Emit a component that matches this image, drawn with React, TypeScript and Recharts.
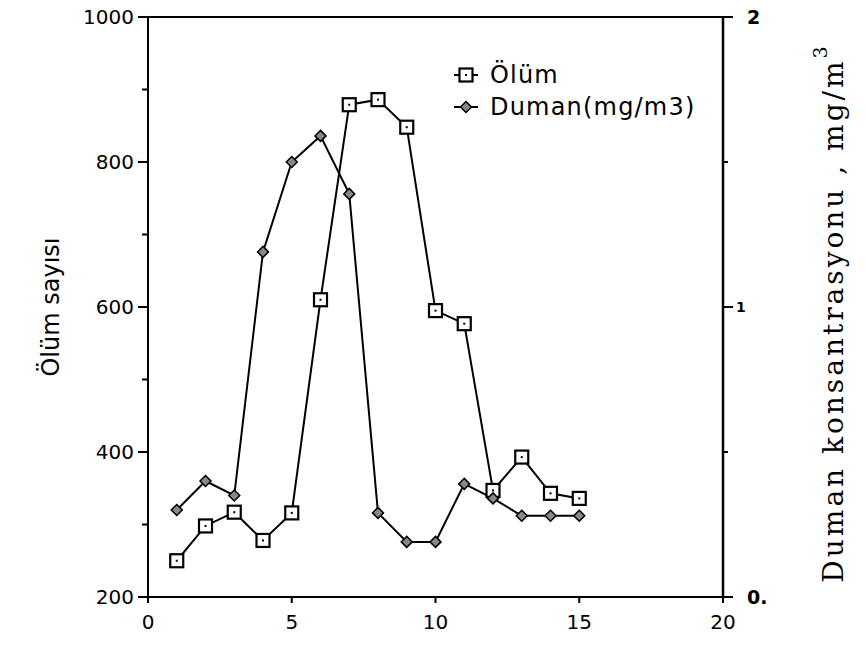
import React from 'react';
import { LineChart, Line, XAxis, YAxis, ReferenceLine, Legend } from 'recharts';

const days = [1, 2, 3, 4, 5, 6, 7, 8, 9, 10, 11, 12, 13, 14, 15];
const olum = [250, 298, 317, 278, 316, 610, 879, 886, 848, 595, 577, 347, 393, 343, 336];
const duman = [0.3, 0.4, 0.35, 1.19, 1.5, 1.59, 1.39, 0.29, 0.19, 0.19, 0.39, 0.34, 0.28, 0.28, 0.28];
const xTicks = [0, 5, 10, 15, 20];
const leftTicks = [200, 300, 400, 500, 600, 700, 800, 900, 1000];
const rightTicks = [0, 0.5, 1, 1.5, 2];
const rightLabels: Record<string, string> = { '0': '0.', '1': '1', '2': '2' };

const data = days.map((d, i) => ({ day: d, olum: olum[i], duman: duman[i] }));

const SANS = '"DejaVu Sans", sans-serif';
const SERIF = '"DejaVu Serif", serif';

const SquareDot = (props: any) => {
  const { cx, cy } = props;
  if (cx == null || cy == null) return null;
  return (
    <g>
      <rect x={cx - 6.5} y={cy - 6.5} width={13} height={13} fill="#fff" stroke="#000" strokeWidth={2.2} />
      <rect x={cx - 1} y={cy - 1} width={2} height={2} fill="#000" />
    </g>
  );
};

const DiamondDot = (props: any) => {
  const { cx, cy } = props;
  if (cx == null || cy == null) return null;
  const r = 5.5;
  return (
    <polygon
      points={`${cx},${cy - r} ${cx + r},${cy} ${cx},${cy + r} ${cx - r},${cy}`}
      fill="#888"
      stroke="#000"
      strokeWidth={1.5}
    />
  );
};

const LeftTick = (props: any) => {
  const { x, y, payload } = props;
  const v = payload.value;
  const major = v % 200 === 0;
  return (
    <g>
      <line x1={x} x2={x - (major ? 10 : 6)} y1={y} y2={y} stroke="#000" strokeWidth={2} />
      {major && (
        <text x={x - 14} y={y} textAnchor="end" dominantBaseline="central" fontFamily={SANS} fontSize={20} fill="#000">
          {v}
        </text>
      )}
    </g>
  );
};

const RightTick = (props: any) => {
  const { x, y, payload } = props;
  const v = payload.value;
  const lbl = rightLabels[String(v)];
  return (
    <g>
      <line x1={x} x2={x + (lbl ? 10 : 5)} y1={y} y2={y} stroke="#000" strokeWidth={2} />
      {lbl && (
        <text x={x + (v === 1 ? 13 : 24)} y={y} textAnchor="start" dominantBaseline="central" fontFamily={SANS} fontSize={v === 1 ? 14 : 19} fontWeight="bold" fill="#000">
          {lbl}
        </text>
      )}
    </g>
  );
};

const BottomTick = (props: any) => {
  const { x, y, payload } = props;
  return (
    <g>
      <line x1={x} x2={x} y1={y} y2={y + 6} stroke="#000" strokeWidth={2} />
      <text x={x} y={y + 25} textAnchor="middle" dominantBaseline="central" fontFamily={SANS} fontSize={20} fill="#000">
        {payload.value}
      </text>
    </g>
  );
};

const LeftLabel = (props: any) => {
  const vb = props.viewBox || { x: 0, y: 17, width: 148, height: 580 };
  const cx = 51;
  const cy = vb.y + vb.height / 2;
  return (
    <text
      x={cx}
      y={cy}
      transform={`rotate(-90, ${cx}, ${cy})`}
      textAnchor="middle"
      dominantBaseline="central"
      fontFamily={SANS}
      fontSize={24}
      fill="#000"
    >
      Ölüm sayısı
    </text>
  );
};

const RightLabel = (props: any) => {
  const vb = props.viewBox || { x: 723, y: 17, width: 143, height: 580 };
  const cx = 833;
  const cy = vb.y + vb.height / 2 + 6;
  return (
    <text
      x={cx}
      y={cy}
      transform={`rotate(-90, ${cx}, ${cy})`}
      textAnchor="middle"
      dominantBaseline="central"
      fontFamily={SERIF}
      fontSize={28}
      letterSpacing={3}
      fill="#000"
    >
      Duman konsantrasyonu , mg/m
      <tspan dy={-13} fontSize={19}>3</tspan>
    </text>
  );
};

const LegendContent = () => (
  <div style={{ position: 'relative', width: 340, height: 70, fontFamily: SANS, fontSize: 24, letterSpacing: 1.2, color: '#000' }}>
    <div style={{ position: 'absolute', left: 0, top: 0, height: 28, display: 'flex', alignItems: 'center', whiteSpace: 'nowrap' }}>
      <svg width={36} height={28}>
        <line x1={6} x2={30} y1={14} y2={14} stroke="#000" strokeWidth={2} />
        <SquareDot cx={18} cy={14} />
      </svg>
      <span style={{ marginLeft: 6 }}>Ölüm</span>
    </div>
    <div style={{ position: 'absolute', left: 0, top: 32, height: 28, display: 'flex', alignItems: 'center', whiteSpace: 'nowrap' }}>
      <svg width={36} height={28}>
        <line x1={6} x2={30} y1={14} y2={14} stroke="#000" strokeWidth={2} />
        <DiamondDot cx={18} cy={14} />
      </svg>
      <span style={{ marginLeft: 6 }}>Duman(mg/m3)</span>
    </div>
  </div>
);

export default function App() {
  return (
    <div style={{ marginTop: -8, marginLeft: -8, width: 866, height: 653 }}>
      <LineChart width={866} height={653} data={data} margin={{ top: 17, right: 0, bottom: 0, left: 0 }}>
        <XAxis
          dataKey="day"
          type="number"
          domain={[0, 20]}
          ticks={xTicks}
          height={56}
          axisLine={{ stroke: '#000', strokeWidth: 2 }}
          tickLine={false}
          tickSize={0}
          tickMargin={0}
          tick={<BottomTick />}
          interval={0}
        />
        <YAxis
          yAxisId="left"
          orientation="left"
          domain={[200, 1000]}
          ticks={leftTicks}
          width={148}
          axisLine={{ stroke: '#000', strokeWidth: 2 }}
          tickLine={false}
          tickSize={0}
          tickMargin={0}
          tick={<LeftTick />}
          interval={0}
          label={<LeftLabel />}
        />
        <YAxis
          yAxisId="right"
          orientation="right"
          domain={[0, 2]}
          ticks={rightTicks}
          width={143}
          axisLine={{ stroke: '#000', strokeWidth: 2.5 }}
          tickLine={false}
          tickSize={0}
          tickMargin={0}
          tick={<RightTick />}
          interval={0}
          label={<RightLabel />}
        />
        <ReferenceLine yAxisId="left" y={1000} stroke="#000" strokeWidth={2} ifOverflow="extendDomain" />
        <Legend
          layout="vertical"
          align="center"
          verticalAlign="middle"
          content={<LegendContent />}
          wrapperStyle={{ left: 448, top: 61, width: 340, height: 70 }}
        />
        <Line
          yAxisId="left"
          dataKey="olum"
          name="Ölüm"
          stroke="#000"
          strokeWidth={2}
          dot={<SquareDot />}
          activeDot={false}
          isAnimationActive={false}
        />
        <Line
          yAxisId="right"
          dataKey="duman"
          name="Duman(mg/m3)"
          stroke="#000"
          strokeWidth={2}
          dot={<DiamondDot />}
          activeDot={false}
          isAnimationActive={false}
        />
      </LineChart>
    </div>
  );
}
